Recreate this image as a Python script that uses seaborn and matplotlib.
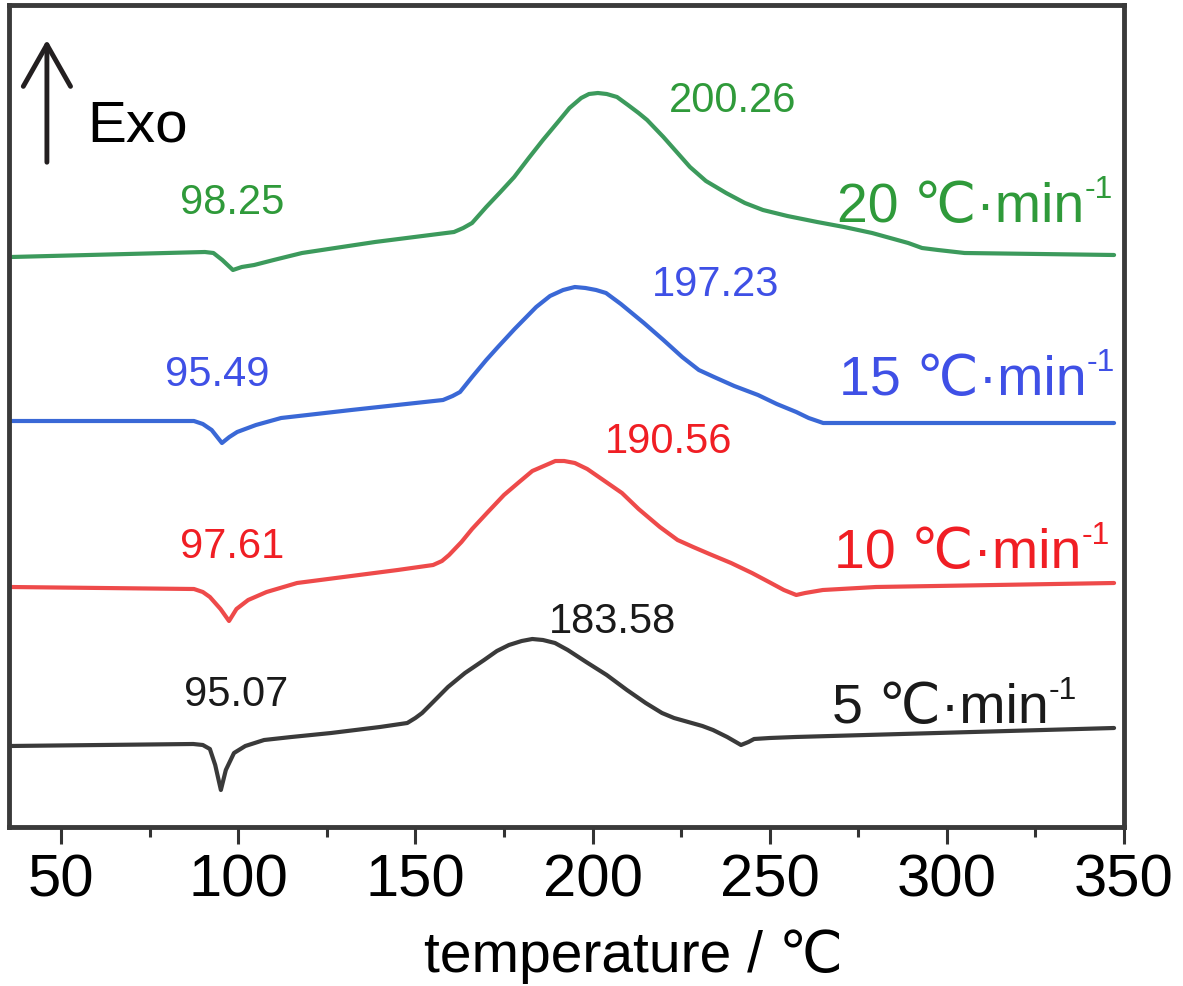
import numpy as np
import pandas as pd
import matplotlib
matplotlib.use("Agg")
import matplotlib.pyplot as plt
import seaborn as sns
from matplotlib.ticker import MultipleLocator

# DSC curves (temperature in C, heat flow in a.u.)
t_5 = [35.3, 87.3, 90.0, 92.0, 93.5, 95.1, 96.5, 98.8, 102.0, 107.3, 115.0, 126.2, 140.0,
       147.7, 150.0, 151.9, 155.0, 159.2, 164.0, 169.4, 173.0, 176.4, 180.0, 183.0, 186.0,
       189.4, 193.0, 198.2, 204.0, 209.7, 215.0, 219.6, 223.0, 227.0, 231.0, 234.0, 238.0,
       241.9, 244.0, 245.6, 250.0, 257.2, 347.2]
hf_5 = [99, 101, 100, 96, 80, 55, 75, 92, 99, 105, 108, 112, 118,
        122, 127, 132, 143, 158, 172, 185, 194, 200, 204, 206, 205,
        202, 195, 183, 170, 155, 142, 132, 127, 123, 119, 115, 108,
        100, 103, 106, 107, 108, 117]

t_10 = [35.6, 87.5, 90.0, 92.0, 95.0, 97.4, 99.5, 102.8, 108.0, 116.6, 131.9, 145.0, 155.0,
        157.5, 159.5, 163.0, 166.0, 170.2, 175.0, 179.3, 183.0, 186.9, 189.5, 192.0, 195.0,
        198.5, 203.0, 208.3, 213.0, 219.0, 224.0, 228.4, 233.0, 239.1, 245.0, 249.8, 254.0,
        257.5, 260.0, 265.0, 280.0, 347.2]
hf_10 = [258, 256, 253, 248, 236, 224, 236, 245, 253, 262, 269, 275, 280,
         284, 290, 303, 316, 332, 350, 363, 374, 380, 384, 384, 382,
         376, 365, 352, 336, 318, 305, 298, 291, 282, 272, 263, 255,
         250, 252, 255, 258, 262]

t_15 = [35.6, 87.5, 90.0, 92.5, 95.4, 97.5, 99.7, 105.0, 112.1, 131.9, 157.8, 160.5, 162.6,
        166.0, 170.0, 173.3, 178.0, 184.1, 188.0, 191.7, 195.0, 198.0, 201.0, 203.8, 208.0,
        214.5, 220.0, 225.3, 230.0, 234.3, 240.0, 246.7, 252.0, 257.5, 261.0, 265.1, 347.2]
hf_15 = [424, 424, 421, 415, 402, 408, 413, 420, 427, 435, 445, 449, 453,
         468, 485, 498, 516, 538, 549, 555, 558, 557, 555, 552, 541,
         522, 505, 488, 475, 468, 459, 450, 441, 433, 427, 422, 422]

t_20 = [35.9, 90.6, 93.0, 95.5, 98.5, 101.0, 104.5, 110.0, 118.0, 138.6, 160.9, 163.5, 166.0,
        170.0, 174.0, 177.9, 182.0, 186.0, 190.0, 193.5, 196.8, 199.0, 201.5, 204.0, 206.9,
        210.0, 213.0, 215.4, 220.0, 224.0, 227.5, 232.0, 237.7, 243.0, 248.1, 255.0, 263.4,
        271.0, 278.9, 284.0, 289.1, 293.0, 297.5, 305.0, 347.2]
hf_20 = [588, 593, 592, 585, 575, 578, 580, 585, 592, 603, 613, 617, 622,
         638, 653, 668, 687, 705, 722, 737, 747, 751, 752, 751, 748,
         740, 732, 725, 708, 692, 678, 664, 652, 642, 635, 629, 623,
         618, 612, 607, 602, 597, 595, 592, 590]

rates = ["5", "10", "15", "20"]
line_colors = ["#3a3a3a", "#ee4a4a", "#3a68d6", "#3c9a5c"]
text_colors = ["#1a1a1a", "#f01e24", "#3f50e6", "#2f9a3a"]

# peak labels: (text, T, hf)
peak_labels = [
    [("95.07", 99.4, 150), ("183.58", 205.5, 223)],
    [("97.61", 98.3, 298), ("190.56", 221.6, 403)],
    [("95.49", 94.0, 470), ("197.23", 234.6, 560)],
    [("98.25", 98.3, 642), ("200.26", 239.4, 744)],
]
rate_pos = [(267.6, 122), (268.2, 277), (269.6, 450), (269.0, 623)]

df = pd.concat([
    pd.DataFrame({"T": t, "hf": h, "rate": r})
    for t, h, r in zip([t_5, t_10, t_15, t_20], [hf_5, hf_10, hf_15, hf_20], rates)
])

sns.set_style("white")
plt.rcParams["font.family"] = ["Liberation Sans", "DejaVu Sans"]
plt.rcParams["text.color"] = "black"
plt.rcParams["axes.labelcolor"] = "black"
plt.rcParams["xtick.labelcolor"] = "black"

fig = plt.figure(figsize=(11.83, 9.86), dpi=100)
ax = fig.add_axes([9 / 1183, 1 - 827 / 986, (1124 - 9) / 1183, (827 - 5) / 986])

sns.lineplot(data=df, x="T", y="hf", hue="rate", palette=dict(zip(rates, line_colors)),
             linewidth=3, legend=False, sort=False, estimator=None, ax=ax)

for labels, c in zip(peak_labels, text_colors):
    for txt, x, y in labels:
        ax.text(x, y, txt, color=c, fontsize=30, ha="center", va="center")

for r, (x, y), c in zip(rates, rate_pos, text_colors):
    main = ax.text(x, y, r + " ℃·min", color=c, fontsize=40, ha="left", va="baseline")
    ax.annotate("-1", xy=(1, 1), xycoords=main, xytext=(0, 5),
                textcoords="offset points", color=c, fontsize=23, ha="left", va="top")

# Exo arrow
ax.annotate("", xy=(46, 808), xytext=(46, 680),
            arrowprops=dict(arrowstyle="->,head_length=1.5,head_width=0.85",
                            lw=3.5, color="#231f20", mutation_scale=20))
ax.text(57.3, 704, "Exo", fontsize=42, color="black", ha="left", va="baseline")

ax.set_xlim(35.3, 350)
ax.set_ylim(18, 840)
ax.xaxis.set_major_locator(MultipleLocator(50))
ax.xaxis.set_minor_locator(MultipleLocator(25))
ax.set_yticks([])
ax.tick_params(axis="x", which="major", direction="out", length=12, width=2.2,
               color="#333333", labelsize=43, pad=7, bottom=True)
ax.tick_params(axis="x", which="minor", direction="out", length=7, width=2.2,
               color="#333333", bottom=True)
for s in ax.spines.values():
    s.set_linewidth(3.5)
    s.set_color("#3a3a3a")
ax.set_xlabel("temperature / ℃", fontsize=41)
ax.xaxis.set_label_coords(0.56, -0.124)
ax.set_ylabel("")

fig.savefig("out.png", dpi=100)
